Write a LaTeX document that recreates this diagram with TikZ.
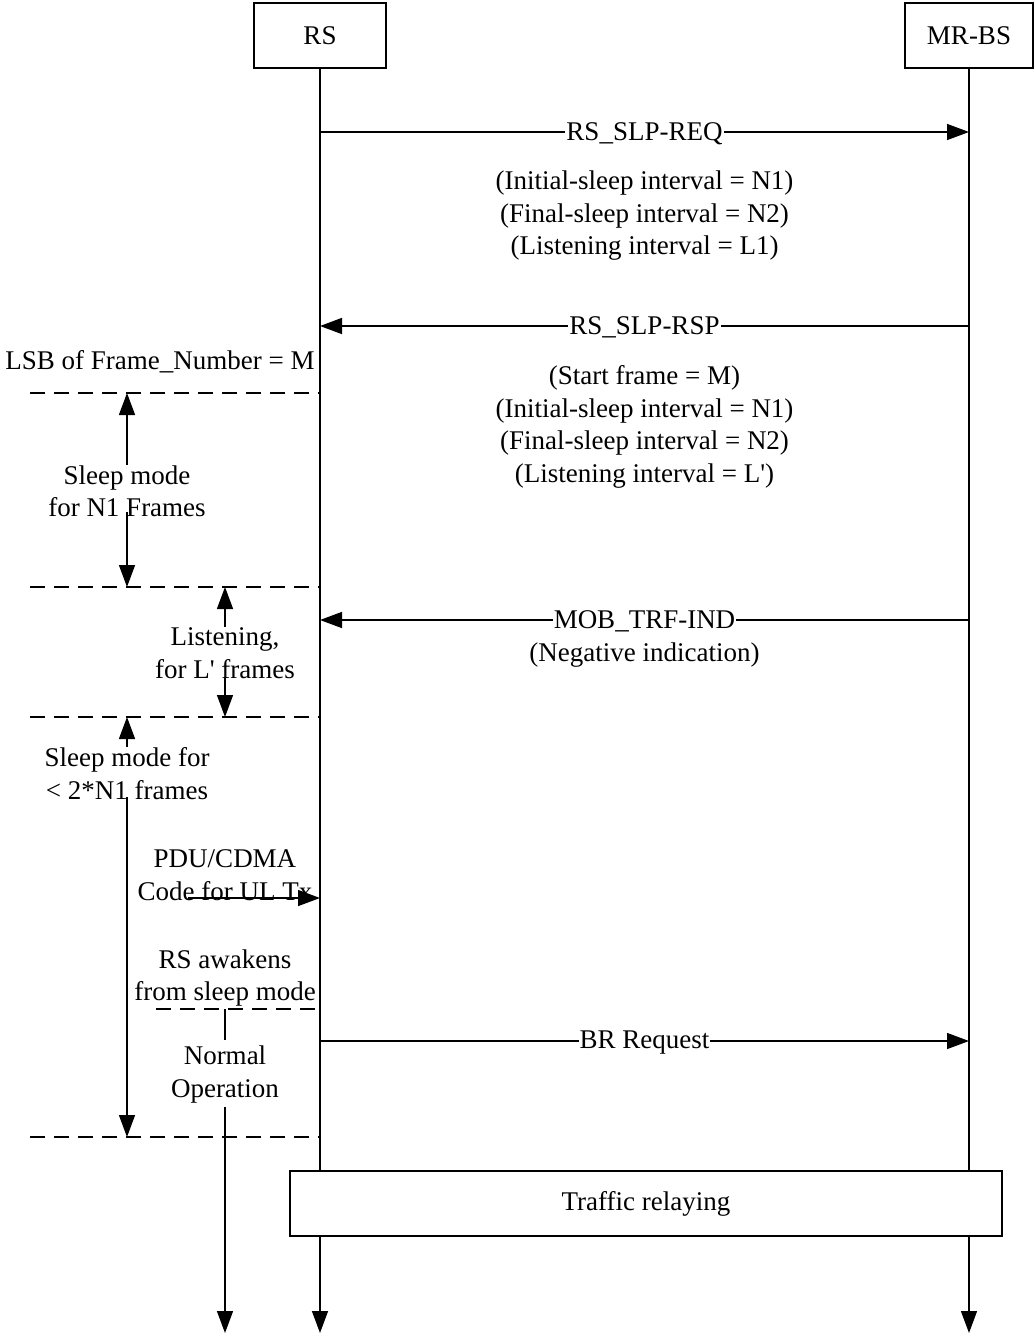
\documentclass[tikz,border=0pt]{standalone}
\usepackage{fontspec}
\setmainfont{Liberation Serif}
\usetikzlibrary{arrows.meta}
\tikzset{
    actor/.style={draw, line width=1.4pt, minimum height=65pt},
    msg/.style={-{Triangle[length=22pt,width=16pt]}},
    lbl/.style={fill=white, inner sep=1pt},
    sepline/.style={dash pattern=on 15pt off 9pt},
    txt/.style={align=center, inner sep=0pt},
}
\begin{document}
\begin{tikzpicture}[x=1pt, y=-1pt, line width=1.4pt,
    font=\fontsize{27}{32.5}\selectfont]
    \useasboundingbox (0,0) rectangle (1034,1336);

    % actors
    \node[actor, minimum width=132pt] (rs) at (320,35.5) {RS};
    \node[actor, minimum width=128pt] (mrbs) at (969,35.5) {MR-BS};

    \coordinate (rsEnd) at (320,1333);
    \coordinate (mrbsEnd) at (969,1333);
    \draw[msg] (rs.south) -- (rsEnd);
    \draw[msg] (mrbs.south) -- (mrbsEnd);

    % messages
    \coordinate (reqA) at (320,132);   \coordinate (reqB) at (969,132);
    \coordinate (rspA) at (320,326);   \coordinate (rspB) at (969,326);
    \coordinate (trfA) at (320,620);   \coordinate (trfB) at (969,620);
    \coordinate (brA) at (320,1041);   \coordinate (brB) at (969,1041);

    \draw[msg] (reqA) -- node[lbl, yshift=-1.5pt] {RS\_SLP-REQ} (reqB);
    \node[txt] (reqInfo) at (644.5,216) {(Initial-sleep interval = N1)\\(Final-sleep interval = N2)\\(Listening interval = L1)};

    \draw[msg] (rspB) -- node[lbl, yshift=-1.5pt] {RS\_SLP-RSP} (rspA);
    \node[txt] (rspInfo) at (644.5,427) {(Start frame = M)\\(Initial-sleep interval = N1)\\(Final-sleep interval = N2)\\(Listening interval = L\textquotesingle)};

    \draw[msg] (trfB) -- node[lbl, yshift=-1.5pt] {MOB\_TRF-IND} (trfA);
    \node[txt] (trfInfo) at (644.5,655) {(Negative indication)};

    \draw[msg] (brA) -- node[lbl, yshift=-1.5pt] {BR Request} (brB);

    % RS side
    \node[txt] (lsb) at (160,362) {LSB of Frame\_Number = M};

    \coordinate (sepAl) at (30,393);   \coordinate (sepAr) at (320,393);
    \coordinate (sepBl) at (30,587);   \coordinate (sepBr) at (320,587);
    \coordinate (sepCl) at (30,717);   \coordinate (sepCr) at (320,717);
    \coordinate (sepDl) at (156,1009); \coordinate (sepDr) at (320,1009);
    \coordinate (sepEl) at (30,1137);  \coordinate (sepEr) at (320,1137);
    \draw[sepline] (sepAl) -- (sepAr);
    \draw[sepline] (sepBl) -- (sepBr);
    \draw[sepline] (sepCl) -- (sepCr);
    \draw[sepline] (sepDl) -- (sepDr);
    \draw[sepline] (sepEl) -- (sepEr);

    \node[txt] (sleepA) at (127,491.5) {Sleep mode\\for N1 Frames};
    \coordinate (sleepAtop) at (127,465);  \coordinate (sleepAbot) at (127,512);
    \draw[msg] (sleepAtop) -- (127,393);
    \draw[msg] (sleepAbot) -- (127,587);

    \node[txt] (listen) at (225,653) {Listening,\\for L\textquotesingle{} frames};
    \coordinate (listenTop) at (225,627);  \coordinate (listenBot) at (225,677);
    \draw[msg] (listenTop) -- (225,587);
    \draw[msg] (listenBot) -- (225,717);

    \node[txt] (sleepB) at (127,773.5) {Sleep mode for\\\textless{} 2*N1 frames};
    \coordinate (sleepBtop) at (127,747);  \coordinate (sleepBbot) at (127,797);
    \draw[msg] (sleepBtop) -- (127,717);
    \draw[msg] (sleepBbot) -- (127,1137);

    \node[txt] (pdu) at (225,875) {PDU/CDMA\\Code for UL Tx};
    \coordinate (pduStart) at (188,898);  \coordinate (pduEnd) at (320,898);
    \draw[msg] (pduStart) -- (pduEnd);

    \node[txt] (awake) at (225,978) {RS awakens\\from sleep mode};

    \node[txt] (normal) at (225,1074.5) {Normal\\Operation};
    \coordinate (normalTop) at (225,1040);  \coordinate (normalBot) at (225,1107);
    \coordinate (normalEnd) at (225,1333);
    \draw (225,1009) -- (normalTop);
    \draw[msg] (normalBot) -- (normalEnd);

    % traffic
    \node[draw, fill=white, minimum width=712pt, minimum height=65pt] (traffic) at (646,1203.5) {Traffic relaying};
\end{tikzpicture}
\end{document}
